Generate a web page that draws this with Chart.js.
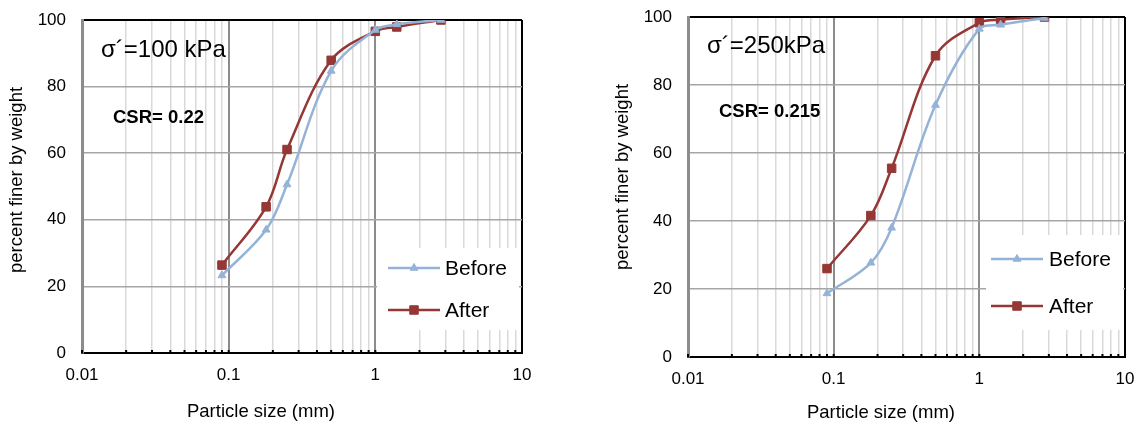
<!DOCTYPE html>
<html>
<head>
<meta charset="utf-8">
<script src="https://cdn.jsdelivr.net/npm/chart.js@4.4.1/dist/chart.umd.min.js"></script>
<style>
  body { margin: 0; background: #fff; }
  .wrap { position: absolute; top: 0; height: 425px; }
  #w1 { left: 0; width: 570px; }
  #w2 { left: 570px; width: 571px; }
</style>
</head>
<body>
<div class="wrap" id="w1"><canvas id="c1" width="570" height="425"></canvas></div>
<div class="wrap" id="w2"><canvas id="c2" width="571" height="425"></canvas></div>
<script>
// sieve sizes (mm)
const sizes = [0.09, 0.18, 0.25, 0.5, 1, 1.4, 2.8];

// sigma' = 100 kPa
const before100 = [23.3, 37.0, 50.6, 84.7, 97.0, 98.7, 100];
const after100  = [26.4, 43.9, 61.1, 87.9, 96.6, 97.9, 100];

// sigma' = 250 kPa
const before250 = [18.7, 27.7, 38.0, 74.1, 96.5, 97.7, 99.7];
const after250  = [26.0, 41.6, 55.5, 88.6, 98.3, 99.2, 100];

const seriesNames = ['Before', 'After'];
const decades = [0.01, 0.1, 1, 10];
const yTicks = [0, 20, 40, 60, 80, 100];
const stressLabels = ['σ´=100 kPa', 'σ´=250kPa'];
const csrLabels = ['CSR= 0.22', 'CSR= 0.215'];
const xTitle = 'Particle size (mm)';
const yTitle = 'percent finer by weight';

const FONT = '"Liberation Sans", Arial, sans-serif';
const BEFORE_COLOR = '#95b3d7';
const AFTER_COLOR = '#953735';

// 1..9 x 10^n gridlines between 0.01 and 10
const logTicks = [];
decades.slice(0, -1).forEach(d => {
  for (let k = 1; k <= 9; k++) logTicks.push(Number((k * d).toPrecision(3)));
});
logTicks.push(decades[decades.length - 1]);

const isDecade = v => decades.includes(v);
const toPoints = ys => sizes.map((x, i) => ({ x, y: ys[i] }));

// text, legend box and small bottom ticks
const inlayPlugin = {
  id: 'inlay',
  afterDatasetsDraw(chart, args, opts) {
    const { ctx, chartArea } = chart;
    const xs = chart.scales.x;
    ctx.save();

    // little tick marks along the bottom axis
    ctx.fillStyle = '#000';
    logTicks.forEach(v => {
      const px = xs.getPixelForValue(v);
      ctx.fillRect(px - 1, chartArea.bottom - 3, 2, 3);
    });

    // legend
    const lg = opts.legend;
    ctx.fillStyle = '#fff';
    ctx.fillRect(lg.box[0], lg.box[1], lg.box[2], lg.box[3]);
    chart.data.datasets.forEach((ds, i) => {
      const y = lg.rows[i];
      ctx.strokeStyle = ds.borderColor;
      ctx.lineWidth = ds.borderWidth;
      ctx.beginPath();
      ctx.moveTo(lg.line[0], y);
      ctx.lineTo(lg.line[1], y);
      ctx.stroke();
      ctx.fillStyle = ds.pointBackgroundColor;
      ctx.strokeStyle = ds.pointBorderColor;
      ctx.lineWidth = 1;
      Chart.helpers.drawPoint(ctx, {
        pointStyle: ds.pointStyle,
        radius: ds.pointRadius,
        borderWidth: 1,
        rotation: 0
      }, (lg.line[0] + lg.line[1]) / 2, y);
      ctx.fillStyle = '#000';
      ctx.font = '21px ' + FONT;
      ctx.textAlign = 'left';
      ctx.textBaseline = 'middle';
      ctx.fillText(ds.label, lg.textX, y + 1);
    });

    // annotations
    ctx.fillStyle = '#000';
    ctx.textBaseline = 'middle';
    ctx.textAlign = 'left';
    ctx.font = '24px ' + FONT;
    ctx.fillText(opts.stress.text, opts.stress.x, opts.stress.y);
    ctx.font = 'bold 18.5px ' + FONT;
    ctx.fillText(opts.csr.text, opts.csr.x, opts.csr.y);

    // axis titles
    ctx.font = '18.5px ' + FONT;
    ctx.textAlign = 'center';
    ctx.fillText(xTitle, opts.xTitle[0], opts.xTitle[1]);
    ctx.translate(opts.yTitle[0], opts.yTitle[1]);
    ctx.rotate(-Math.PI / 2);
    ctx.fillText(yTitle, 0, 0);
    ctx.restore();
  }
};

function makeChart(canvasId, beforeVals, afterVals, layout) {
  const seriesStyle = (color, style, r) => ({
    borderColor: color,
    backgroundColor: color,
    pointBackgroundColor: color,
    pointBorderColor: color,
    pointStyle: style,
    pointRadius: r,
    pointHoverRadius: r,
    pointBorderWidth: 1,
    borderWidth: 2.5,
    tension: 0.35
  });

  return new Chart(document.getElementById(canvasId), {
    type: 'line',
    data: {
      datasets: [
        Object.assign({ label: seriesNames[0], data: toPoints(beforeVals) }, seriesStyle(BEFORE_COLOR, 'triangle', 4.5)),
        Object.assign({ label: seriesNames[1], data: toPoints(afterVals) }, seriesStyle(AFTER_COLOR, 'rect', 6))
      ]
    },
    options: {
      responsive: false,
      animation: false,
      events: [],
      layout: { padding: { left: 0, top: layout.top, right: layout.right, bottom: 0 } },
      plugins: {
        legend: { display: false },
        tooltip: { enabled: false },
        inlay: layout.inlay
      },
      scales: {
        x: {
          type: 'logarithmic',
          min: 0.01,
          max: 10,
          afterBuildTicks: s => { s.ticks = logTicks.map(v => ({ value: v, major: isDecade(v) })); },
          afterFit: s => {
            s.height = layout.xHeight;
            s.paddingLeft = 0;
            s.paddingRight = 0;
          },
          ticks: {
            autoSkip: false,
            maxRotation: 0,
            padding: 12,
            color: '#000',
            font: { size: 17, family: FONT },
            callback: v => isDecade(v) ? String(v) : ''
          },
          grid: {
            drawTicks: false,
            color: c => c.tick.value === 10 ? '#000' : (isDecade(c.tick.value) ? '#8c8c8c' : '#d9d9d9'),
            lineWidth: c => isDecade(c.tick.value) ? 2 : 1.5
          },
          border: { color: '#000', width: 2 }
        },
        y: {
          min: 0,
          max: 100,
          afterBuildTicks: s => { s.ticks = yTicks.map(v => ({ value: v })); },
          afterFit: s => {
            s.width = layout.yWidth;
            s.paddingTop = 0;
            s.paddingBottom = 0;
          },
          ticks: {
            padding: 16,
            color: '#000',
            font: { size: 17, family: FONT }
          },
          grid: {
            drawTicks: false,
            color: c => c.tick.value === 100 ? '#000' : '#a6a6a6',
            lineWidth: c => c.tick.value === 100 ? 2 : 1.5
          },
          border: { color: '#8c8c8c', width: 3 }
        }
      }
    },
    plugins: [inlayPlugin]
  });
}

makeChart('c1', before100, after100, {
  top: 20, right: 48, xHeight: 72, yWidth: 82,
  inlay: {
    legend: { box: [377, 248, 142, 82], line: [388, 440], rows: [268, 310], textX: 445 },
    stress: { text: stressLabels[0], x: 101, y: 50 },
    csr: { text: csrLabels[0], x: 113, y: 118 },
    xTitle: [261, 412],
    yTitle: [17, 180]
  }
});

makeChart('c2', before250, after250, {
  top: 17, right: 16, xHeight: 68, yWidth: 118,
  inlay: {
    legend: { box: [416, 235, 137, 95], line: [421, 473], rows: [259, 306], textX: 479 },
    stress: { text: stressLabels[1], x: 137, y: 46 },
    csr: { text: csrLabels[1], x: 149, y: 112 },
    xTitle: [311, 413],
    yTitle: [53, 177]
  }
});
</script>
</body>
</html>
